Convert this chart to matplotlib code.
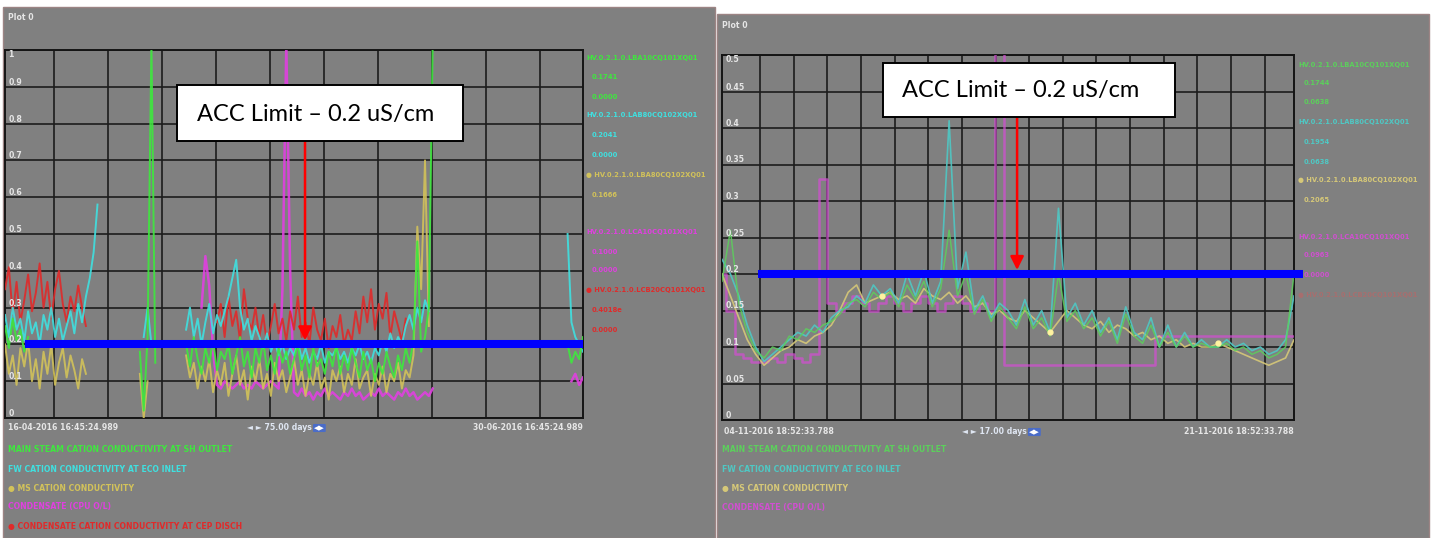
import numpy as np
import matplotlib
matplotlib.use("Agg")
import matplotlib.pyplot as plt
from matplotlib.patches import Rectangle

# ---------------- data ----------------
ACC_LIMIT = 0.2
ANNOT_TEXT = "ACC Limit \u2013 0.2 uS/cm"

# Left trend: 16-04-2016 .. 30-06-2016 (75 days), samples every 0.5 day, four segments
LEFT_SPAN_DAYS = 75.0
LEFT_STEP = 0.5
LEFT_SEG_START = [0.0, 17.5, 23.5, 73.0]

L_GREEN = [
    [0.25, 0.19, 0.27, 0.21, 0.24, 0.18, 0.22],
    [0.18, 0.02, 0.22, 1.02, 0.15],
    [0.20, 0.14, 0.22, 0.16, 0.12, 0.19, 0.15, 0.21, 0.13, 0.18,
     0.16, 0.20, 0.12, 0.17, 0.22, 0.14, 0.18, 0.11, 0.19, 0.15,
     0.21, 0.13, 0.17, 0.12, 0.19, 0.15, 0.18, 0.12, 0.16, 0.20,
     0.13, 0.17, 0.11, 0.19, 0.14, 0.16, 0.12, 0.18, 0.14, 0.20,
     0.12, 0.17, 0.13, 0.19, 0.15, 0.11, 0.18, 0.13, 0.16, 0.10,
     0.15, 0.12, 0.18, 0.14, 0.11, 0.17, 0.13, 0.19, 0.15, 0.21,
     0.48, 0.18, 0.22, 0.30, 1.02],
    [0.20, 0.15, 0.18, 0.16, 0.22],
]
L_CYAN = [
    [0.28, 0.22, 0.30, 0.24, 0.27, 0.21, 0.29, 0.23, 0.26, 0.20,
     0.28, 0.24, 0.30, 0.22, 0.27, 0.21, 0.25, 0.29, 0.23, 0.31,
     0.26, 0.33, 0.38, 0.45, 0.58],
    [None, 0.22, 0.30, 0.20, None],
    [0.24, 0.30, 0.22, 0.27, 0.20, 0.26, 0.31, 0.23, 0.28, 0.25,
     0.29, 0.33, 0.38, 0.43, 0.30, 0.24, 0.27, 0.21, 0.25, 0.22,
     0.19, 0.23, 0.18, 0.21, 0.17, 0.20, 0.16, 0.19, 0.17, 0.21,
     0.16, 0.19, 0.15, 0.18, 0.16, 0.20, 0.15, 0.18, 0.17, 0.19,
     0.16, 0.18, 0.15, 0.19, 0.17, 0.20, 0.16, 0.18, 0.15, 0.19,
     0.17, 0.21, 0.18, 0.23, 0.19, 0.22, 0.20, 0.25, 0.28, 0.24,
     0.30, 0.26, 0.32, 0.29, None],
    [0.50, 0.26, 0.22, 0.20, 0.18],
]
L_YELLOW = [
    [0.20, 0.12, 0.17, 0.09, 0.19, 0.14, 0.21, 0.10, 0.16, 0.08,
     0.18, 0.12, 0.20, 0.09, 0.15, 0.19, 0.11, 0.17, 0.13, 0.08,
     0.16, 0.12, None, None, None],
    [0.12, 0.00, 0.10, None, None],
    [0.17, 0.11, 0.15, 0.08, 0.14, 0.10, 0.16, 0.07, 0.13, 0.09,
     0.15, 0.06, 0.12, 0.17, 0.09, 0.13, 0.05, 0.14, 0.10, 0.16,
     0.08, 0.12, 0.06, 0.15, 0.10, 0.13, 0.07, 0.11, 0.16, 0.09,
     0.13, 0.06, 0.12, 0.09, 0.15, 0.08, 0.11, 0.05, 0.13, 0.10,
     0.14, 0.07, 0.12, 0.09, 0.16, 0.08, 0.11, 0.13, 0.06, 0.12,
     0.09, 0.14, 0.07, 0.12, 0.10, 0.15, 0.08, 0.13, 0.11, 0.17,
     0.52, 0.35, 0.70, 0.25, None],
    [],
]
L_MAGENTA = [
    [],
    [],
    [None, None, None, None, 0.30, 0.44, 0.36, 0.18,
     0.09, 0.08, 0.10, 0.09, 0.08, 0.09, 0.10, 0.08, 0.09, 0.08,
     0.10, 0.09, 0.08, 0.09, 0.10, 0.09, 0.08,
     0.35, 1.02, 0.40,
     0.07, 0.06, 0.08, 0.06, 0.07, 0.05, 0.07, 0.06, 0.08, 0.06,
     0.07, 0.06, 0.05, 0.07, 0.06, 0.08, 0.06, 0.07, 0.05, 0.06,
     0.07, 0.06, 0.08, 0.06, 0.07, 0.06, 0.05, 0.07, 0.06, 0.08,
     0.06, 0.07, 0.05, 0.06, 0.07, 0.06, 0.08],
    [None, 0.10, 0.12, 0.09, 0.11],
]
L_RED = [
    [0.35, 0.41, 0.28, 0.37, 0.26, 0.32, 0.39, 0.29, 0.34, 0.42,
     0.30, 0.37, 0.27, 0.35, 0.40, 0.31, 0.26, 0.33, 0.29, 0.36,
     0.30, 0.25, None, None, None],
    [],
    [None, None, None, None, None, None, None, None,
     0.26, 0.31, 0.22, 0.33, 0.25, 0.29, 0.21, 0.35, 0.27, 0.24, 0.30, 0.22,
     0.28, 0.20, 0.25, 0.31, 0.23, 0.27, 0.21, 0.29, 0.24, 0.33,
     0.22, 0.26, 0.20, 0.30, 0.24, 0.21, 0.27, 0.19, 0.25, 0.22,
     0.28, 0.20, 0.24, 0.21, 0.29, 0.23, 0.33, 0.26, 0.35, 0.24,
     0.31, 0.27, 0.34, 0.22, 0.29, 0.25, 0.21, 0.27, None, None,
     None, None, None, None, None],
    [],
]

# Right trend: 04-11-2016 .. 21-11-2016 (17 days), samples every 0.25 day
RIGHT_SPAN_DAYS = 17.0
RIGHT_STEP = 0.25
R_CYAN = [0.22, 0.20, 0.17, 0.13, 0.10, 0.08, 0.09, 0.10, 0.11, 0.12,
          0.115, 0.13, 0.12, 0.14, 0.15, 0.155, 0.17, 0.16, 0.185, 0.17,
          0.18, 0.16, 0.20, 0.17, 0.205, 0.16, 0.19, 0.41, 0.18, 0.23,
          0.15, 0.17, 0.14, 0.16, 0.15, 0.13, 0.165, 0.13, 0.15, 0.12,
          0.29, 0.14, 0.16, 0.13, 0.15, 0.12, 0.14, 0.11, 0.155, 0.12,
          0.11, 0.14, 0.10, 0.13, 0.10, 0.12, 0.10, 0.11, 0.10, 0.10,
          0.11, 0.10, 0.105, 0.095, 0.10, 0.09, 0.095, 0.11, 0.17]
R_GREEN = [0.19, 0.26, 0.16, 0.12, 0.095, 0.085, 0.10, 0.095, 0.115, 0.11,
           0.125, 0.12, 0.13, 0.135, 0.145, 0.16, 0.165, 0.155, 0.175, 0.165,
           0.175, 0.155, 0.185, 0.165, 0.19, 0.155, 0.18, 0.26, 0.17, 0.20,
           0.145, 0.165, 0.135, 0.155, 0.14, 0.125, 0.155, 0.125, 0.14, 0.115,
           0.20, 0.135, 0.15, 0.125, 0.14, 0.115, 0.135, 0.105, 0.145, 0.115,
           0.105, 0.13, 0.10, 0.12, 0.10, 0.115, 0.10, 0.105, 0.10, 0.10,
           0.105, 0.095, 0.10, 0.09, 0.095, 0.085, 0.09, 0.10, 0.20]
R_YELLOW = [0.20, 0.17, 0.14, 0.11, 0.09, 0.075, 0.085, 0.095, 0.10, 0.11,
            0.105, 0.115, 0.12, 0.13, 0.15, 0.175, 0.185, 0.16, 0.165, 0.17,
            0.175, 0.165, 0.17, 0.16, 0.18, 0.17, 0.165, 0.175, 0.16, 0.17,
            0.155, 0.16, 0.145, 0.15, 0.14, 0.135, 0.15, 0.14, 0.13, 0.12,
            0.135, 0.15, 0.14, 0.13, 0.125, 0.135, 0.12, 0.13, 0.125, 0.115,
            0.12, 0.11, 0.115, 0.105, 0.11, 0.10, 0.105, 0.10, 0.10, 0.105,
            0.10, 0.095, 0.09, 0.085, 0.08, 0.075, 0.08, 0.085, 0.11]
R_MAGENTA = [0.20, 0.15, 0.09, 0.085, 0.08, 0.08, 0.085, 0.08, 0.09, 0.085,
             0.08, 0.09, 0.33, 0.16, 0.15, 0.16, 0.17, 0.16, 0.15, 0.16,
             0.17, 0.16, 0.15, 0.16, 0.17, 0.16, 0.15, 0.16, 0.17, 0.16,
             0.15, 0.16, 0.15, 0.52, 0.075, 0.075, 0.075, 0.075, 0.075, 0.075,
             0.075, 0.075, 0.075, 0.075, 0.075, 0.075, 0.075, 0.075, 0.075, 0.075,
             0.075, 0.075, 0.115, 0.115, 0.115, 0.115, 0.115, 0.115, 0.115, 0.115,
             0.115, 0.115, 0.115, 0.115, 0.115, 0.115, 0.115, 0.115, 0.115]
R_YELLOW_DOTS = [19, 39, 59]

LEFT_YTICKS = [0.0, 0.1, 0.2, 0.3, 0.4, 0.5, 0.6, 0.7, 0.8, 0.9, 1.0]
LEFT_YLABELS = ["0", "0.1", "0.2", "0.3", "0.4", "0.5", "0.6", "0.7", "0.8", "0.9", "1"]
RIGHT_YTICKS = [0.0, 0.05, 0.1, 0.15, 0.2, 0.25, 0.3, 0.35, 0.4, 0.45, 0.5]
RIGHT_YLABELS = ["0", "0.05", "0.1", "0.15", "0.2", "0.25", "0.3", "0.35", "0.4", "0.45", "0.5"]
LEFT_XGRID = [6.36 + 7.0 * k for k in range(10)]
RIGHT_XGRID = [1.13 + 1.0 * k for k in range(16)]

LEGEND_NAMES = ["MAIN STEAM CATION CONDUCTIVITY AT SH OUTLET",
                "FW CATION CONDUCTIVITY AT ECO INLET",
                "\u25cf MS CATION CONDUCTIVITY",
                "CONDENSATE (CPU O/L)",
                "\u25cf CONDENSATE CATION CONDUCTIVITY AT CEP DISCH"]
LEFT_SIDE_ROWS = [("g", "HV.0.2.1.0.LBA10CQ101XQ01", 0), ("g", "0.1741", 1), ("g", "0.0000", 1),
                  ("c", "HV.0.2.1.0.LAB80CQ102XQ01", 0), ("c", "0.2041", 1), ("c", "0.0000", 1),
                  ("y", "\u25cf HV.0.2.1.0.LBA80CQ102XQ01", 0), ("y", "0.1666", 1),
                  ("m", "HV.0.2.1.0.LCA10CQ101XQ01", 0), ("m", "0.1000", 1), ("m", "0.0000", 1),
                  ("r", "\u25cf HV.0.2.1.0.LCB20CQ101XQ01", 0), ("r", "0.4018e", 1), ("r", "0.0000", 1)]
RIGHT_SIDE_ROWS = [("g", "HV.0.2.1.0.LBA10CQ101XQ01", 0), ("g", "0.1744", 1), ("g", "0.0638", 1),
                   ("c", "HV.0.2.1.0.LAB80CQ102XQ01", 0), ("c", "0.1954", 1), ("c", "0.0638", 1),
                   ("y", "\u25cf HV.0.2.1.0.LBA80CQ102XQ01", 0), ("y", "0.2065", 1),
                   ("m", "HV.0.2.1.0.LCA10CQ101XQ01", 0), ("m", "0.0963", 1), ("m", "0.0000", 1),
                   ("r", "\u25cf HV.0.2.1.0.LCB20CQ101XQ01", 0)]

# ---------------- style ----------------
W, H = 1437, 538
GREY = "#808080"
COL = {"g": "#3ee83e", "c": "#3fe0e0", "y": "#d2c25a", "m": "#e040e0", "r": "#e02a2a"}
RCOL = {"g": "#5ccf5c", "c": "#4fc8c4", "y": "#d6c878", "m": "#d050d0", "r": "#c86060"}
TXT = "#e6e6e6"
SMALL = dict(family="DejaVu Sans", fontsize=5.6, fontweight="bold")
SIDE = dict(family="DejaVu Sans", fontsize=4.9, fontweight="bold")


def FX(px):
    return px / W


def FY(py):
    return 1 - py / H


fig = plt.figure(figsize=(W / 100, H / 100), dpi=100)
fig.patch.set_facecolor("white")

# screenshot panels (behind everything)
fig.patches.append(Rectangle((FX(3), FY(538)), FX(715) - FX(3), (538 - 7) / H, transform=fig.transFigure,
                             facecolor=GREY, edgecolor="#9c8484", lw=1.0, zorder=-10))
fig.patches.append(Rectangle((FX(717), FY(538)), FX(1429) - FX(717), (538 - 14) / H, transform=fig.transFigure,
                             facecolor=GREY, edgecolor="#9c8484", lw=1.0, zorder=-10))


def make_axes(x0, y0, x1, y1, xmax, ymax, xgrid, yticks, ylabels):
    ax = fig.add_axes([FX(x0), FY(y1), FX(x1) - FX(x0), (y1 - y0) / H])
    ax.set_zorder(1)
    ax.set_facecolor(GREY)
    ax.set_xlim(0, xmax)
    ax.set_ylim(0, ymax)
    ax.set_xticks(xgrid)
    ax.set_yticks(yticks)
    ax.tick_params(length=0, labelbottom=False, labelleft=False)
    ax.grid(True, color="#1c1c1c", lw=1.2)
    ax.set_axisbelow(True)
    for s in ax.spines.values():
        s.set_color("#151515")
        s.set_linewidth(1.4)
    for v, lab in zip(yticks, ylabels):
        top = v >= ymax
        ax.text(0.006, v, lab, transform=ax.get_yaxis_transform(), color=TXT,
                va="top" if top else "bottom", ha="left", **SMALL, zorder=5)
    return ax


axL = make_axes(5, 50, 583, 418, LEFT_SPAN_DAYS, 1.0, LEFT_XGRID, LEFT_YTICKS, LEFT_YLABELS)
axR = make_axes(722, 55, 1294, 420, RIGHT_SPAN_DAYS, 0.5, RIGHT_XGRID, RIGHT_YTICKS, RIGHT_YLABELS)

# left series
for key, series in [("m", L_MAGENTA), ("y", L_YELLOW), ("r", L_RED), ("c", L_CYAN), ("g", L_GREEN)]:
    for start, seg in zip(LEFT_SEG_START, series):
        if len(seg) == 0:
            continue
        vals = np.array(seg, dtype=float)
        t = start + LEFT_STEP * np.arange(len(vals))
        axL.plot(t, vals, color=COL[key], lw=1.4 if key != "m" else 1.8, alpha=0.9, zorder=3)

# right series
tR = RIGHT_STEP * np.arange(len(R_CYAN))
axR.plot(tR, np.array(R_MAGENTA), color=RCOL["m"], lw=1.8, alpha=0.75, zorder=3, drawstyle="steps-mid")
axR.plot(tR, np.array(R_YELLOW), color=RCOL["y"], lw=1.2, alpha=0.9, zorder=3)
axR.plot(tR, np.array(R_CYAN), color=RCOL["c"], lw=1.2, alpha=0.9, zorder=3)
axR.plot(tR, np.array(R_GREEN), color=RCOL["g"], lw=1.1, alpha=0.85, zorder=3)
axR.plot(tR[R_YELLOW_DOTS], np.array(R_YELLOW)[R_YELLOW_DOTS], "o", color="#fff2a0", ms=3.5, zorder=4)

# ACC limit lines
axL.plot([2.6, LEFT_SPAN_DAYS], [ACC_LIMIT, ACC_LIMIT], color="#0000ff", lw=5.8,
         solid_capstyle="butt", clip_on=False, zorder=6)
axR.plot([1.07, 17.27], [ACC_LIMIT, ACC_LIMIT], color="#0000ff", lw=5.8,
         solid_capstyle="butt", clip_on=False, zorder=6)

# annotation boxes + arrows
for (bx0, by0, bx1, by1, tx, ax, xd, tip) in [(177, 85, 463, 141, 316, axL, 38.93, ACC_LIMIT + 0.011),
                                            (883, 63, 1175, 117, 1021, axR, 8.77, ACC_LIMIT + 0.0055)]:
    fig.patches.append(Rectangle((FX(bx0), FY(by1)), FX(bx1) - FX(bx0), (by1 - by0) / H,
                                 transform=fig.transFigure, facecolor="white", edgecolor="black",
                                 lw=1.4, zorder=10))
    fig.text(FX(tx), FY((by0 + by1) / 2 + 1), ANNOT_TEXT, ha="center", va="center", fontsize=17,
             family="Lato", color="black", zorder=11)
    ax.annotate("", xy=(xd, tip), xycoords="data", xytext=(xd, FY(by1)),
                textcoords=("data", "figure fraction"), zorder=9, annotation_clip=False,
                arrowprops=dict(arrowstyle="-|>", color="#ff0000", lw=1.8, mutation_scale=20,
                                shrinkA=0, shrinkB=0))

# titles
fig.text(FX(8), FY(18), "Plot 0", color=TXT, ha="left", va="center", **SMALL)
fig.text(FX(722), FY(25), "Plot 0", color=TXT, ha="left", va="center", **SMALL)

# bottom time labels
fig.text(FX(8), FY(428), "16-04-2016 16:45:24.989", color=TXT, ha="left", va="center", **SMALL)
fig.text(FX(583), FY(428), "30-06-2016 16:45:24.989", color=TXT, ha="right", va="center", **SMALL)
fig.text(FX(247), FY(428), "\u25c4 \u25ba 75.00 days", color="#dfe6f2", ha="left", va="center", **SMALL)
fig.text(FX(314), FY(428), "\u25c0\u25b6", color="white", ha="left", va="center", fontsize=5,
         bbox=dict(boxstyle="round,pad=0.15", fc="#4a6cc8", ec="none"))
fig.text(FX(724), FY(432), "04-11-2016 18:52:33.788", color=TXT, ha="left", va="center", **SMALL)
fig.text(FX(1294), FY(432), "21-11-2016 18:52:33.788", color=TXT, ha="right", va="center", **SMALL)
fig.text(FX(962), FY(432), "\u25c4 \u25ba 17.00 days", color="#dfe6f2", ha="left", va="center", **SMALL)
fig.text(FX(1029), FY(432), "\u25c0\u25b6", color="white", ha="left", va="center", fontsize=5,
         bbox=dict(boxstyle="round,pad=0.15", fc="#4a6cc8", ec="none"))

# bottom legends
for i, (k, name) in enumerate(zip("gcymr", LEGEND_NAMES)):
    fig.text(FX(8), FY(450 + 19 * i), name, color=COL[k], ha="left", va="center", **SMALL)
for i, (k, name) in enumerate(zip("gcym", LEGEND_NAMES[:4])):
    fig.text(FX(722), FY(450 + 19.3 * i), name, color=RCOL[k], ha="left", va="center", **SMALL)

# side legends
left_side_y = [58, 77, 97, 115, 135, 155, 175, 195, 232, 252, 270, 290, 310, 330]
for (k, s, ind), y in zip(LEFT_SIDE_ROWS, left_side_y):
    fig.text(FX(586 + 6 * ind), FY(y), s, color=COL[k], ha="left", va="center", **SIDE)
right_side_y = [65, 83, 102, 122, 142, 162, 180, 200, 237, 255, 275, 295]
for (k, s, ind), y in zip(RIGHT_SIDE_ROWS, right_side_y):
    fig.text(FX(1298 + 6 * ind), FY(y), s, color=RCOL[k], ha="left", va="center",
             alpha=0.55 if k == "r" else 1.0, **SIDE)

fig.savefig("out.png", dpi=100, facecolor=fig.get_facecolor())
